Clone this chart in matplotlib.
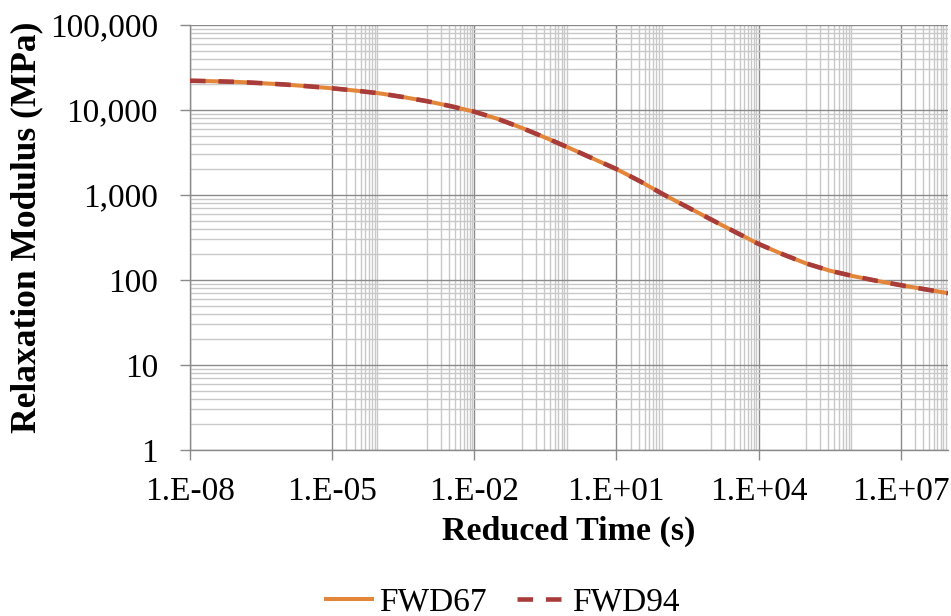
import matplotlib
matplotlib.use('Agg')
import matplotlib.pyplot as plt
from matplotlib.ticker import NullFormatter
import numpy as np

plt.rcParams['font.family'] = ['Liberation Serif', 'DejaVu Serif']

# reduced time (s), half-decade steps
reduced_time = [1e-8, 3.16e-8, 1e-7, 3.16e-7, 1e-6, 3.16e-6, 1e-5, 3.16e-5,
                1e-4, 3.16e-4, 1e-3, 3.16e-3, 1e-2, 3.16e-2, 1e-1, 3.16e-1,
                1e0, 3.16e0, 1e1, 3.16e1, 1e2, 3.16e2, 1e3, 3.16e3,
                1e4, 3.16e4, 1e5, 3.16e5, 1e6, 3.16e6, 1e7, 3.16e7, 1e8]

# relaxation modulus (MPa)
fwd67 = [22100, 21800, 21400, 20700, 19950, 19000, 18000, 16900,
         15700, 14200, 12700, 11100, 9550, 7850, 6170, 4730,
         3590, 2690, 2020, 1450, 1010, 720, 515, 369,
         266, 202, 157, 129, 111, 97.7, 87, 78, 70]
fwd94 = [22100, 21800, 21400, 20700, 19950, 19000, 18000, 16900,
         15700, 14200, 12700, 11100, 9550, 7850, 6170, 4730,
         3590, 2690, 2020, 1450, 1010, 720, 515, 369,
         266, 202, 157, 129, 111, 97.7, 87, 78, 70]

series_names = ['FWD67', 'FWD94']

x_major = [1e-8, 1e-5, 1e-2, 1e1, 1e4, 1e7]
y_major = [1, 10, 100, 1000, 10000, 100000]

MAJOR_GRID = '#8a8a8a'
MINOR_GRID = '#c8c8c8'

fig = plt.figure(figsize=(9.51, 6.16), dpi=100)
ax = fig.add_axes([190 / 951, 166 / 616, 758 / 951, 425 / 616])

ax.set_xscale('log')
ax.set_yscale('log')
ax.set_xlim(1e-8, 1e8)
ax.set_ylim(1, 100000)

# minor vertical grid lines (base-1000 axis): full decades and 2..9 decades
x_minor = []
for e in [-3, -1, 3, 5]:
    x_minor += [k * 10.0 ** e for k in range(1, 10)]
for e in [-5, 1, 7]:
    x_minor += [k * 10.0 ** e for k in range(2, 10)]
y_minor = []
for e in range(0, 5):
    y_minor += [k * 10.0 ** e for k in range(2, 10)]

ax.set_xticks(x_major)
ax.set_xticks(x_minor, minor=True)
ax.set_yticks(y_major)
ax.set_yticks(y_minor, minor=True)
ax.set_xticklabels(['1.E{:+03d}'.format(int(round(np.log10(v)))) for v in x_major])
ax.set_yticklabels(['{:,}'.format(v) for v in y_major])
ax.xaxis.set_minor_formatter(NullFormatter())
ax.yaxis.set_minor_formatter(NullFormatter())

ax.grid(True, which='minor', color=MINOR_GRID, linewidth=1.0, zorder=0)
ax.grid(True, which='major', color=MAJOR_GRID, linewidth=1.0, zorder=0)
ax.set_axisbelow(True)

ax.tick_params(which='major', direction='out', length=7, width=1.0,
               color=MAJOR_GRID, labelsize=24, labelcolor='black')
ax.tick_params(axis='x', which='major', pad=12)
ax.tick_params(axis='y', which='major', pad=16)
ax.tick_params(which='minor', length=0)

for side in ['top', 'right']:
    ax.spines[side].set_visible(False)
for side in ['left', 'bottom']:
    ax.spines[side].set_color(MAJOR_GRID)
    ax.spines[side].set_linewidth(1.0)

ax.plot(reduced_time, fwd67, color='#E3863A', linewidth=2.9,
        solid_capstyle='butt', label=series_names[0], zorder=3)
ax.plot(reduced_time, fwd94, color='#A83C3A', linewidth=3.3,
        dashes=(3.4, 2.8), dash_capstyle='butt', label=series_names[1], zorder=4)

ax.set_xlabel('Reduced Time (s)', fontsize=24.5, fontweight='bold')
ax.set_ylabel('Relaxation Modulus (MPa)', fontsize=25.5, fontweight='bold')
ax.xaxis.set_label_coords(0.5, -0.155)
ax.yaxis.set_label_coords(-0.193, 0.523)

fig.legend(loc='center', bbox_to_anchor=(502 / 951, 1 - 602 / 616), ncol=2,
           frameon=False, fontsize=24, handlelength=1.5, handletextpad=0.15,
           columnspacing=0.9, borderpad=0, borderaxespad=0)

fig.savefig('out.png', dpi=100)
